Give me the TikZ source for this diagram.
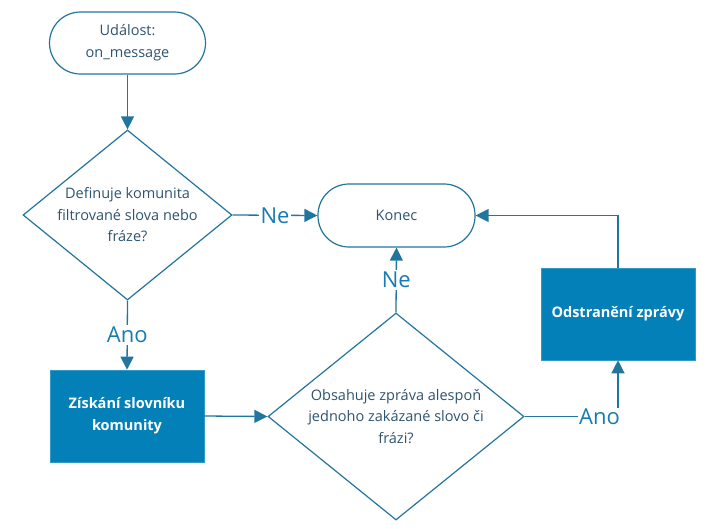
\documentclass[tikz,border=0pt]{standalone}
\usepackage{fontspec}
\setmainfont{Open Sans}
\usetikzlibrary{shapes.geometric,arrows.meta}
\definecolor{lineblue}{RGB}{34,118,158}
\definecolor{boxblue}{RGB}{3,128,184}
\definecolor{txtdark}{RGB}{46,84,110}
\definecolor{lblblue}{RGB}{22,124,178}
\tikzset{
  conn/.style={draw=lineblue, line width=1.3pt, -{Triangle[length=13pt,width=13pt]}},
  plain/.style={draw=lineblue, line width=1.3pt},
  term/.style={draw=lineblue, line width=1.2pt, rectangle, rounded corners=31pt, minimum width=156pt, minimum height=62pt, text=txtdark, font=\fontsize{14.5}{22}\selectfont, align=center, fill=white},
  decide/.style={draw=lineblue, line width=1.2pt, diamond, inner sep=0pt, fill=white},
  procbox/.style={draw=boxblue!80!white, line width=0.6pt, fill=boxblue, rectangle, text=white, font=\fontsize{14.5}{22}\selectfont\bfseries, align=center, minimum width=154pt, minimum height=92pt},
  dtext/.style={text=txtdark, font=\fontsize{14.5}{21.5}\selectfont, align=center},
  lbl/.style={fill=white, text=lblblue, font=\fontsize{22}{24}\selectfont, inner sep=2pt}
}
\begin{document}
\begin{tikzpicture}[x=1pt,y=-1pt]
\useasboundingbox[fill=white] (0,0) rectangle (709,528);
\node[term] (start) at (127.5,43) {Událost:\\on\_message};
\node[decide, minimum width=209pt, minimum height=170pt] (d1) at (127.5,215) {};
\node[dtext] (d1t) at (d1.center) {Definuje komunita\\filtrované slova nebo\\fráze?};
\node[term, minimum width=157pt, minimum height=63pt] (konec) at (396.5,215.5) {Konec};
\node[procbox] (b1) at (127,416) {Získání slovníku\\komunity};
\node[decide, minimum width=256pt, minimum height=207pt] (d2) at (396,416.5) {};
\node[dtext] (d2t) at (d2.center) {Obsahuje zpráva alespoň\\jednoho zakázané slovo či\\frázi?};
\node[procbox] (b2) at (618,314) {Odstranění zprávy};
\coordinate (corner) at (618,416.5);

\draw[conn] (start.south) -- (d1.north);
\draw[conn] (d1.east) -- node[lbl] {Ne} (konec.west);
\draw[conn] (d1.south) -- node[lbl] {Ano} (b1.north);
\draw[conn] (b1.east) -- (d2.west);
\draw[conn] (d2.north) -- node[lbl] {Ne} (konec.south);
\draw[plain] (d2.east) -- (corner);
\draw[conn] (corner) -- (b2.south);
\node[lbl, anchor=east, inner sep=1pt] (ano2) at (621,417) {Ano};
\draw[conn] (b2.north) |- (konec.east);
\end{tikzpicture}
\end{document}
